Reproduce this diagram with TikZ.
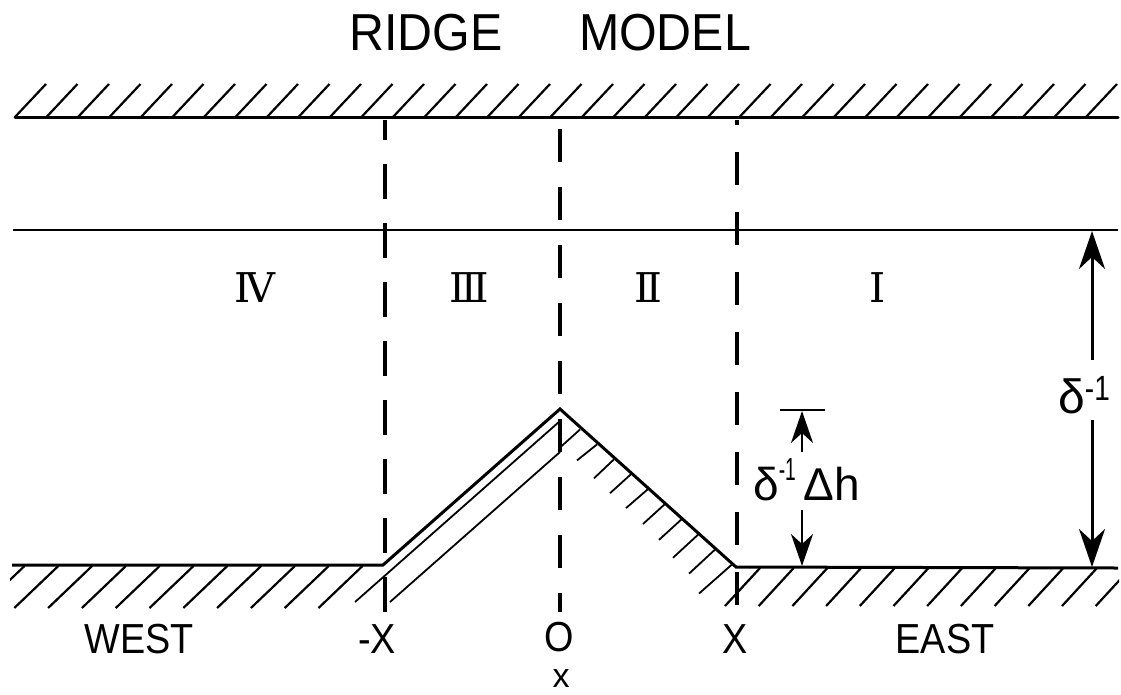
\documentclass[tikz,border=0pt]{standalone}
\usepackage{fontspec}
\setmainfont{Liberation Sans}
\newfontfamily\romfont{DejaVu Serif}
\usetikzlibrary{arrows.meta}
\begin{document}
\begin{tikzpicture}[x=1pt,y=-1pt,
  wall/.style={line width=3pt,line cap=round},
  hatchline/.style={line width=2.2pt},
  thinline/.style={line width=1.8pt},
  dashline/.style={line width=3.4pt},
  bigarrow/.style={line width=3pt,-{Stealth[length=38pt,width=26pt,inset=12pt]}},
  smallarrow/.style={line width=2.5pt,-{Stealth[length=32pt,width=22pt,inset=10pt]}},
  lbl/.style={inner sep=0pt,anchor=base,text depth=0pt,font=\fontsize{42}{42}\selectfont},
  ttl/.style={inner sep=0pt,anchor=base,font=\fontsize{52}{52}\selectfont},
  rom/.style={inner sep=0pt,anchor=base,font=\romfont\fontsize{41}{41}\selectfont}
]
\useasboundingbox (0,0) rectangle (1121,694);

% title
\node[ttl] (ridge) at (426,50) {\scalebox{0.93}[1]{RIDGE}};
\node[ttl] (model) at (665,50) {\scalebox{0.93}[1]{MODEL}};

% top wall
\draw[wall] (15,117) -- (1118,117);
\foreach \i in {0,...,34}
  \draw[hatchline] ({15+31.5*\i},117) -- ++(31,-33);

% middle line
\draw[thinline] (13,230) -- (1118,230);

% dashed lines
\draw[dashline,dash pattern=on 35pt off 24pt,dash phase=15pt] (385,120) -- (385,612);
\draw[dashline,dash pattern=on 33pt off 25pt,dash phase=49pt] (560,120) -- (560,612);
\draw[dashline,dash pattern=on 33pt off 27pt,dash phase=28pt] (737,120) -- (737,610);

% floor and ridge
\draw[wall,line cap=butt] (12,565) -- (383,565) -- (560,409) -- (736,567) -- (1118,568);
\draw[thinline] (355,602) -- (560,421);
\draw[thinline] (390,602) -- (560,452);

% slope hatching
\foreach \tx/\dx/\dy in {580/-20/18,597/-20/16,614/-20/19,631/-21/19,648/-22/19,665/-22/20,682/-23/21,699/-26/24,716/-27/25,733/-34/30}
  \draw[thinline] (\tx,{412+0.876*(\tx-560)}) -- ++(\dx,\dy);

% floor hatching
\begin{scope}
  \clip (10,560) rectangle (1119,640);
  \foreach \i in {0,...,10}
    \draw[hatchline] ({24.5+33.8*\i},566) -- ++(-44,42);
  \foreach \i in {0,...,11}
    \draw[hatchline] ({760+33.7*\i},568) -- ++(-35,38);
\end{scope}

% region numerals
\node[rom] (r4) at (255,302) {Ⅳ};
\node[rom] (r3) at (469,302) {Ⅲ};
\node[rom] (r2) at (648,302) {Ⅱ};
\node[rom] (r1) at (878,302) {Ⅰ};

% bottom labels
\node[lbl] (west) at (139,653) {\scalebox{0.9}[1]{WEST}};
\node[lbl] (mx) at (377,653) {\scalebox{0.9}[1]{-X}};
\node[lbl] (zero) at (559,651) {\scalebox{0.9}[1]{O}};
\node[lbl] (px) at (735,653) {\scalebox{0.9}[1]{X}};
\node[lbl] (east) at (945,653) {\scalebox{0.9}[1]{EAST}};
\node[inner sep=0pt,anchor=base,text height=18pt,text depth=0pt,font=\fontsize{34}{34}\selectfont] (xax) at (561,687) {x};

% delta^-1 arrow
\node[inner sep=0pt,anchor=base west] (dinv) at (1058,413)
  {\fontsize{48}{48}\selectfont δ\raisebox{13pt}{\fontsize{35}{35}\selectfont\scalebox{0.8}[1]{-1}}};
\coordinate (dtop) at (1092,360);
\coordinate (ceil) at (1092,231);
\coordinate (dbot) at (1092,420);
\coordinate (flr) at (1092,567);
\draw[bigarrow] (dtop) -- (ceil);
\draw[bigarrow] (dbot) -- (flr);

% delta^-1 Delta h arrow
\coordinate (barL) at (780,410);
\coordinate (barR) at (825,410);
\draw[line width=2.5pt] (barL) -- (barR);
\coordinate (hup) at (802,452);
\coordinate (htip) at (802,411);
\coordinate (hdn) at (802,510);
\coordinate (hflr) at (802,566);
\draw[smallarrow] (hup) -- (htip);
\draw[smallarrow] (hdn) -- (hflr);
\node[inner sep=0pt,anchor=base west] (dh) at (753,500)
  {\fontsize{46}{46}\selectfont δ\raisebox{20pt}{\fontsize{32}{32}\selectfont\scalebox{0.6}[1]{-1}}\,Δh};
\end{tikzpicture}
\end{document}
